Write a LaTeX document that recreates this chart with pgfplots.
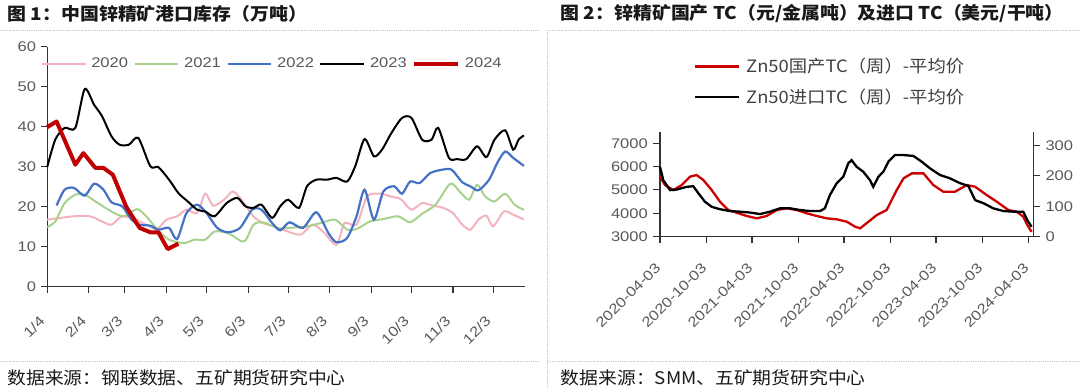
\documentclass[border=0pt]{standalone}
\usepackage{pgfplots}
\pgfplotsset{compat=1.18}
\usepackage{fontspec}
\setmainfont{Liberation Sans}
\newfontfamily\tickfont{Liberation Sans}[FakeStretch=1.18]
\newfontfamily\cjk{Noto Sans CJK SC}[FakeStretch=1.08]
\definecolor{tgray}{HTML}{595959}
\definecolor{lgray}{HTML}{404040}
\definecolor{c2020}{HTML}{F2B3BE}
\definecolor{c2021}{HTML}{A9D18E}
\definecolor{c2022}{HTML}{4472C4}
\definecolor{c2024}{HTML}{C00000}
\definecolor{cred}{HTML}{CC0000}
\definecolor{dotc}{HTML}{C8C8C8}

\pgfplotstableread{
d v
4 16.75
14 17.2
24 17.6
36 17.6
45 16.3
52 15.5
60 17.6
70 16.75
78 15.5
86 14.4
93 16.75
101 17.6
108 19.25
116 18.4
122 23.25
128 20.25
136 21.75
143 23.8
151 20.9
158 17.6
165 15.9
173 15.1
180 14.25
193 13
202 15.5
210 13.8
220 10.5
226 15.9
235 15.5
243 22.6
253 23.25
260 22.6
268 21.9
276 19.25
284 20.9
292 20.25
300 19.7
307 18.4
314 15.5
320 14.25
326 16.75
332 17.75
337 15.1
345 18.8
352 18
360 16.8
}\tA

\pgfplotstableread{
d v
4 14.9
10 16.3
17 20.9
25 23
32 23
42 20.9
52 18.8
61 17.6
71 19.4
78 17.6
86 14.4
95 11.75
106 10.9
114 11.75
122 11.75
129 13.8
139 13.4
151 11.3
158 15.5
165 16.1
173 15.1
178 14.5
185 14.7
198 15.1
208 15.9
219 16.75
228 14.25
235 14.4
245 16.3
255 16.9
266 17.6
275 16.1
284 18.25
294 20.5
305 25.75
312 23.8
319 21.75
325 25.5
331 22.6
338 21.3
346 23.25
353 20.5
360 19.2
}\tB

\pgfplotstableread{
d v
11 20.3
17 24.25
24 24.7
32 22.75
39 25.75
46 24.25
52 21.1
60 20.1
67 16.75
73 15.5
81 15.25
87 14.25
95 14.7
101 11.9
108 18.4
116 20.5
123 18.4
131 14.7
139 13.6
148 14.7
157 19.25
164 19.25
172 15.9
178 14.1
185 16.1
195 14.7
205 18.6
214 13.4
220 11.1
228 12.2
235 17.6
241 24.25
248 16.75
255 23.8
263 25.1
269 23.25
275 26.3
282 25.9
290 28.4
299 29.25
306 29.25
314 26.1
320 25.1
326 24.1
334 26.75
340 30.9
346 33.8
352 32.2
360 30.2
}\tC

\pgfplotstableread{
d v
4 29.9
10 36.75
17 39.7
25 39.7
32 49.4
39 45.5
45 42.6
52 37.6
58 35.5
65 35.5
72 37.2
81 30.1
87 29.9
95 26.75
102 23.4
109 21.3
116 19.25
122 18.8
129 17.6
138 20.9
146 22.2
152 20.1
158 19.7
164 20.5
172 17.2
178 20.1
184 21.75
192 19.7
198 25.1
205 26.75
213 26.75
220 27.2
228 26.3
234 30.1
241 36.9
248 32.6
254 34.25
261 38.4
269 42.2
276 42.2
284 36.75
291 36.75
296 39.7
304 32.2
310 31.9
317 31.9
325 35.1
332 32.4
338 36.75
346 39.1
352 34.25
356 36.75
360 37.8
}\tD

\pgfplotstableread{
d v
4 39.9
11 41.3
25 30.5
31 33.4
40 29.7
46 29.7
53 28
63 20
73 14.7
81 13.6
87 13.6
94 9.4
102 10.75
}\tE

\pgfplotstableread{
d v
0 5570
20 5209
53 4995
86 5209
119 5570
145 5638
172 5424
205 4995
238 4493
271 4137
304 4021
344 3880
384 3780
423 3880
463 4137
503 4208
542 4137
582 3995
622 3880
661 3780
701 3738
741 3635
774 3420
794 3352
827 3635
860 3922
899 4137
939 4995
966 5497
999 5711
1045 5711
1084 5209
1124 4922
1170 4922
1217 5209
1250 5137
1296 4780
1336 4493
1382 4137
1415 4065
1441 3850
1457 3493
1474 3200
}\tDom

\pgfplotstableread{
d v
0 230
13 186
40 153
66 155
106 164
132 166
152 143
178 115
205 98
238 90
278 84
317 82
357 79
397 74
436 82
476 93
516 93
555 87.5
595 84
635 84
654 93
674 137
701 176
727 197
747 242
760 252
780 230
806 214
833 186
846 164
866 197
886 214
906 247
932 269
965 269
1005 266
1038 247
1071 225
1111 203
1150 192
1190 176
1223 167
1250 120
1283 110
1322 93
1362 84
1402 82
1441 82
1457 54
1474 32
}\tImp

\pgfplotsset{
  common/.style={
    scale only axis,
    anchor=south west,
    axis line style={-, black!80, line width=1.1pt},
    tick style={black!80, line width=1.1pt},
    tick align=outside,
    major tick length=6pt,
    ticklabel style={font=\tickfont\fontsize{14}{14}\selectfont, text=tgray},
    /pgf/number format/assume math mode=true,
    /pgf/number format/1000 sep={},
    clip=false,
  },
}

\begin{document}
\begin{tikzpicture}
\path[use as bounding box] (0pt,0pt) rectangle (1080pt,388pt);

% frame decorations
\draw[dotc, densely dotted, line width=0.8pt] (0pt,357.5pt) -- (540pt,357.5pt);
\draw[dotc, densely dotted, line width=0.8pt] (548pt,357.5pt) -- (1080pt,357.5pt);
\draw[dotc, densely dotted, line width=0.8pt] (0pt,26.5pt) -- (540pt,26.5pt);
\draw[dotc, densely dotted, line width=0.8pt] (548pt,26.5pt) -- (1080pt,26.5pt);
\draw[dotc, densely dotted, line width=0.8pt] (547.6pt,357.5pt) -- (547.6pt,0pt);

\node[anchor=west, inner sep=0pt, font=\cjk\bfseries\fontsize{17.5}{17.5}\selectfont, text=black!90] at (7.5pt,374.5pt) {图 1：中国锌精矿港口库存（万吨）};
\node[anchor=west, inner sep=0pt, font=\cjk\bfseries\fontsize{17.5}{17.5}\selectfont, text=black!90] at (560.5pt,374pt) {图 2：锌精矿国产 TC（元/金属吨）及进口 TC（美元/干吨）};
\node[anchor=west, inner sep=0pt, font=\cjk\fontsize{17.4}{17.4}\selectfont, text=black!90] at (7.3pt,10.5pt) {数据来源：钢联数据、五矿期货研究中心};
\node[anchor=west, inner sep=0pt, font=\cjk\fontsize{17.4}{17.4}\selectfont, text=black!90] at (560.7pt,10.5pt) {数据来源：SMM、五矿期货研究中心};

% ---------------- left chart
\begin{axis}[common,
  at={(47.2pt,101.3pt)}, width=477.8pt, height=240pt,
  xmin=4, xmax=360.8, ymin=0, ymax=60,
  axis x line*=bottom, axis y line*=left,
  xtick={4,35,62,93,123,154,184,215,246,276,307,337},
  xticklabels={1/4,2/4,3/3,4/3,5/3,6/3,7/3,8/3,9/3,10/3,11/3,12/3},
  ytick={0,10,...,60},
  xticklabel style={xshift=-5pt, yshift=-26pt, rotate=45, anchor=east, inner sep=0pt},
  yticklabel style={anchor=east, inner sep=0pt, xshift=-5pt},
  legend columns=5,
  legend style={draw=none, fill=none, at={(-0.0136,0.929)}, anchor=west,
    inner sep=0pt, outer sep=0pt,
    font=\tickfont\fontsize{14}{14}\selectfont, text=tgray,
    nodes={inner sep=0pt},
    /tikz/every odd column/.append style={column sep=4.8pt},
    /tikz/every even column/.append style={column sep=5.5pt}},
  legend image code/.code={\draw[#1] (0pt,0pt) -- (43.8pt,0pt);},
]
\addplot[c2020, line width=2pt, smooth, tension=0.45] table[x=d,y=v] {\tA};
\addlegendentry{2020}
\addplot[c2021, line width=2pt, smooth, tension=0.45] table[x=d,y=v] {\tB};
\addlegendentry{2021}
\addplot[c2022, line width=2.2pt, smooth, tension=0.45] table[x=d,y=v] {\tC};
\addlegendentry{2022}
\addplot[black, line width=2pt, smooth, tension=0.45] table[x=d,y=v] {\tD};
\addlegendentry{2023}
\addplot[c2024, line width=4pt, line join=round] table[x=d,y=v] {\tE};
\addlegendentry{2024}
\end{axis}

% ---------------- right chart: domestic (left axis)
\begin{axis}[common,
  at={(660pt,151.5pt)}, width=373.3pt, height=104.8pt,
  xmin=0, xmax=1480.8, ymin=3000, ymax=7500,
  axis x line*=bottom, axis y line*=left,
  xtick={0,183,365,548,730,913,1095,1278,1461},
  xticklabels={2020-04-03,2020-10-03,2021-04-03,2021-10-03,2022-04-03,2022-10-03,2023-04-03,2023-10-03,2024-04-03},
  ytick={3000,4000,5000,6000,7000},
  major tick length=7pt,
  xticklabel style={xshift=-2pt, yshift=-22pt, rotate=45, anchor=east, inner sep=0pt},
  yticklabel style={anchor=east, inner sep=0pt, xshift=-5pt},
]
\addplot[cred, line width=2.3pt] table[x=d,y=v] {\tDom};
\end{axis}

% ---------------- right chart: import (right axis)
\begin{axis}[common,
  at={(660pt,151.5pt)}, width=373.3pt, height=104.8pt,
  xmin=0, xmax=1480.8, ymin=0, ymax=346,
  axis x line=none, axis y line*=right,
  ytick={0,100,200,300},
  major tick length=7pt,
  yticklabel style={anchor=west, inner sep=0pt, xshift=5pt},
  legend columns=1,
  legend style={draw=none, fill=none, at={(0.0895,1.4766)}, anchor=west,
    inner sep=0pt, outer sep=0pt,
    font=\cjk\fontsize{17}{17}\selectfont, text=lgray,
    nodes={inner sep=0pt},
    row sep=15pt,
    /tikz/every odd column/.append style={column sep=6pt}},
  legend image code/.code={\draw[#1] (0pt,0pt) -- (44pt,0pt);},
]
\addlegendimage{cred, line width=2.8pt}
\addlegendentry{Zn50国产TC（周）-平均价}
\addplot[black, line width=2.3pt] table[x=d,y=v] {\tImp};
\addlegendentry{Zn50进口TC（周）-平均价}
\end{axis}
\end{tikzpicture}
\end{document}
